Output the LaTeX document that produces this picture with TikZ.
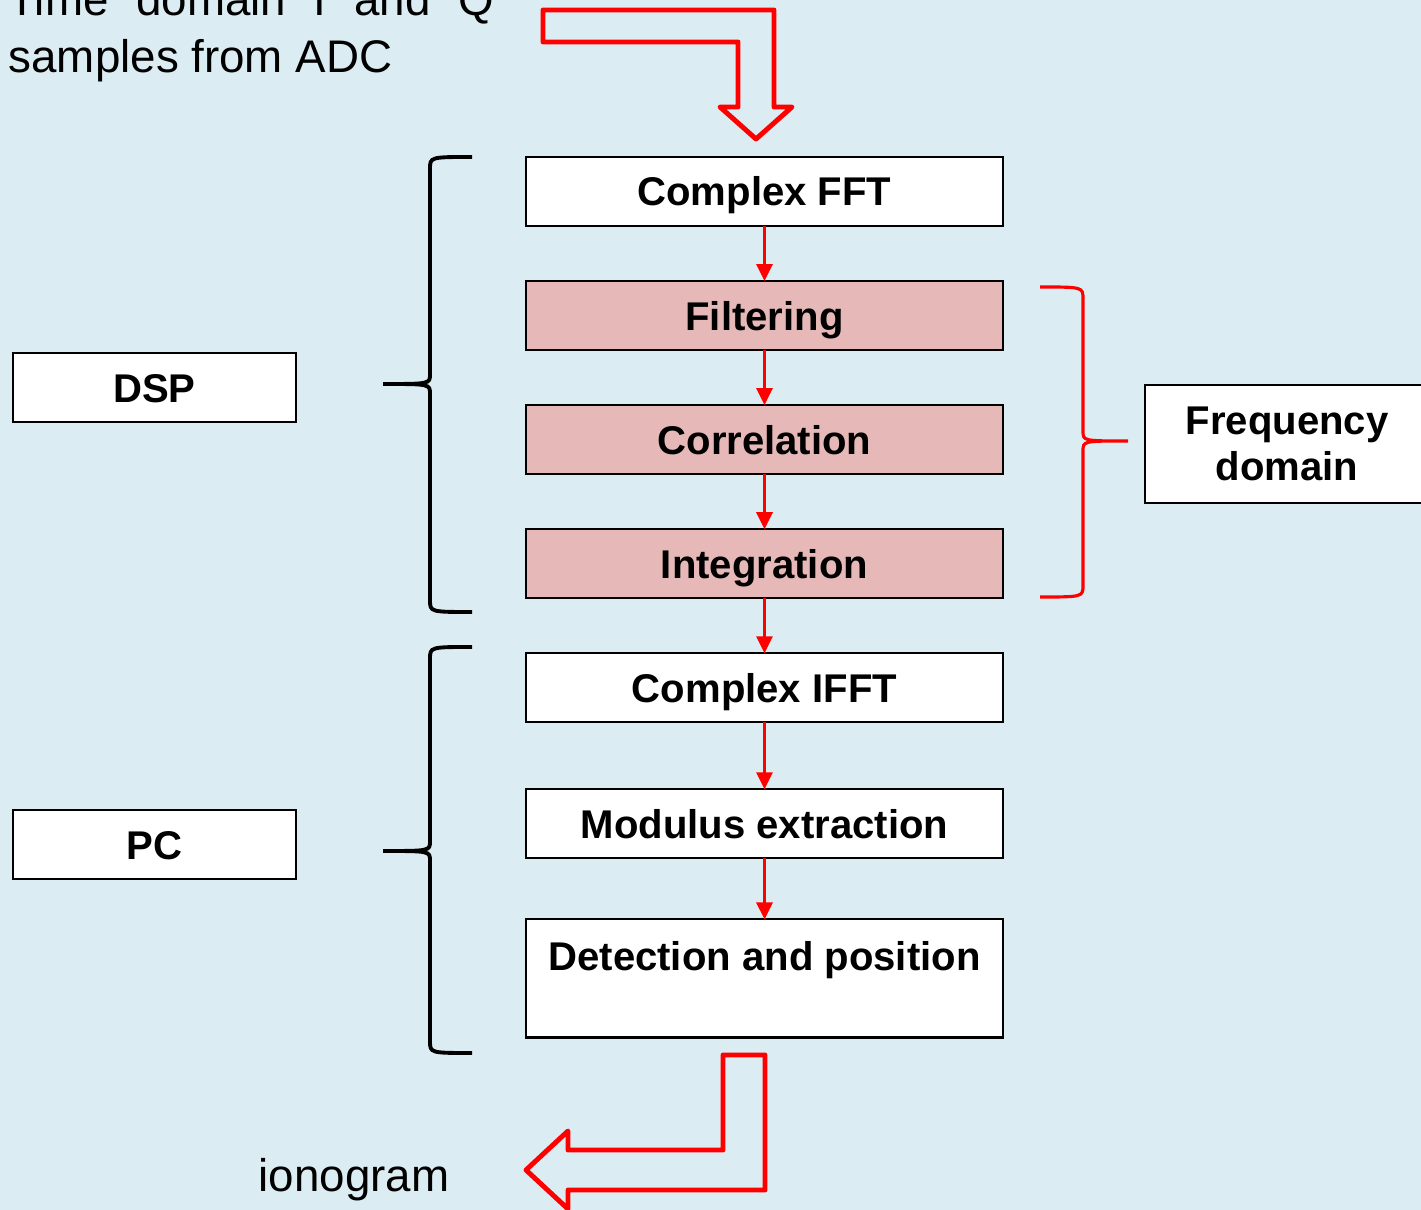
\documentclass[tikz,border=0pt]{standalone}
\usepackage{fontspec}
\setmainfont{Liberation Sans}
\usetikzlibrary{arrows.meta,positioning}
\definecolor{paneblue}{RGB}{219,237,243}
\definecolor{freqpink}{RGB}{230,185,184}
% curly brace: style, x of ends, x of spine, x of tip, y top, y tip, y bottom
\newcommand{\sidebrace}[7]{%
  \draw[#1] (#2,#5) .. controls (#3,#5) .. (#3,{#5+12}) -- (#3,{#6-10})
    .. controls (#3,#6) .. (#4,#6) .. controls (#3,#6) .. (#3,{#6+10})
    -- (#3,{#7-12}) .. controls (#3,#7) .. (#2,#7);}

\begin{document}
\begin{tikzpicture}[x=0.01cm,y=-0.01cm,
  boxbase/.style={draw=black,line width=0.6pt,fill=white,inner sep=0pt,outer sep=0pt,
    font=\bfseries\fontsize{11.4}{13.1}\selectfont},
  stage/.style={boxbase,minimum width=4.77cm,minimum height=0.69cm,
    text height=0.29cm,text depth=0pt},
  freqstage/.style={stage,fill=freqpink},
  side/.style={stage,minimum width=2.83cm},
  flow/.style={red,line width=0.85pt,-{Triangle[length=0.17cm,width=0.16cm]}},
  bigarrow/.style={red,line width=1.4pt,line join=round},
  plain/.style={font=\fontsize{13}{16.2}\selectfont,inner sep=0pt}]
\useasboundingbox (0,0) rectangle (1421,1210);
\clip (0,0) rectangle (1421,1210);
\fill[paneblue] (0,0) rectangle (1421,1210);

% processing chain
\node[stage] (fft) at (764.5,191.5) {Complex FFT};
\node[freqstage, below=0.55cm of fft] (filt) {Filtering};
\node[freqstage, below=0.55cm of filt] (corr) {Correlation};
\node[freqstage, below=0.55cm of corr] (integ) {Integration};
\node[stage, below=0.55cm of integ] (ifft) {Complex IFFT};
\node[stage, below=0.67cm of ifft] (modx) {Modulus extraction};
\node[stage, below=0.61cm of modx, minimum height=0pt, text height=0.51cm,
  text depth=0.67cm] (detect) {Detection and position};
\foreach \a/\b in {fft/filt,filt/corr,corr/integ,integ/ifft,ifft/modx,modx/detect}
  \draw[flow] (\a) -- (\b);

% where it runs
\node[side] (dsp) at (154.5,387.5) {DSP};
\node[side] (pc) at (154.5,844.5) {PC};
\node[boxbase, minimum width=2.84cm, minimum height=1.18cm, align=center] (fdom)
  at (1287,444) {Frequency\\domain};
\sidebrace{black,line width=1.1pt}{472}{430}{383}{157}{384}{612}
\sidebrace{black,line width=1.1pt}{472}{430}{383}{647}{851}{1053}
\sidebrace{red,line width=0.9pt}{1040}{1083}{1128}{287}{441}{597}

% input and output
\node[plain, text width=4.85cm, align=justify, anchor=south west] (adc)
  at (8,83) {Time domain I and Q samples from ADC};
\draw[bigarrow] (543,10) -- (774,10) -- (774,107) -- (792,107) -- (756,139)
  -- (720,107) -- (738,107) -- (738,42) -- (543,42) -- cycle;
\draw[bigarrow] (723,1055) -- (765,1055) -- (765,1190) -- (568,1190) -- (568,1209)
  -- (526,1170) -- (568,1131) -- (568,1150) -- (723,1150) -- cycle;
\node[plain, anchor=base west] (iono) at (258,1192) {ionogram};
\end{tikzpicture}
\end{document}
